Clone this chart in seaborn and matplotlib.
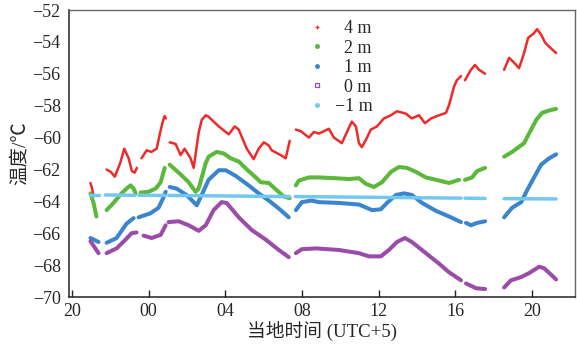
import numpy as np
import pandas as pd
import matplotlib
matplotlib.use('Agg')
import matplotlib.pyplot as plt
from matplotlib.lines import Line2D
import seaborn as sns

nan = np.nan

# hours counted from the first evening (24 = 00 local time), NaN = gap in the record
hour_4m = [20.97, 21.05, 21.13, nan,
           21.81, 22.02, 22.24, 22.52, 22.73, 22.96, 23.13, 23.27, 23.39, nan,
           23.63, 23.9, 24.15, 24.42, 24.6, 24.75, 24.84, 24.9, nan,
           25.10, 25.41, 25.67, 25.88, 26.19, 26.35, 26.61, 26.77, 26.98, 27.13, 27.66, 28.18,
           28.49, 28.70, 29.12, 29.48, 29.74, 30.01, 30.27, 30.42, 30.89, 31.15, 31.36, nan,
           31.68, 31.94, 32.36, 32.62, 32.88, 33.14, 33.40, 33.66, 34.08, 34.44, 34.60, 34.81,
           34.97, 35.12, 35.33, 35.59, 35.91, 36.27, 36.64, 36.95, 37.42, 37.73, 38.10, 38.41,
           38.73, 39.04, 39.51, 39.67, 39.93, 40.08, 40.29, nan,
           40.50, 40.81, 41.02, 41.23, 41.55, nan,
           42.54, 42.80, 43.06, 43.32, 43.58, 43.79, 44.10, 44.26, 44.47, 44.68, 44.89, 45.25]
temp_4m = [-62.85, -63.2, -63.65, nan,
           -62.0, -62.15, -62.45, -61.6, -60.7, -61.3, -62.1, -62.2, -61.9, nan,
           -61.3, -60.8, -60.9, -60.7, -59.7, -58.95, -58.65, -58.8, nan,
           -60.3, -60.4, -61.1, -60.7, -61.3, -61.9, -59.7, -58.9, -58.6, -58.7, -59.3, -59.8,
           -59.3, -59.5, -60.7, -61.35, -60.7, -60.3, -60.5, -60.8, -61.1, -61.3, -60.2, nan,
           -59.5, -59.6, -60.0, -59.65, -59.75, -59.6, -59.45, -60.0, -60.35, -59.4, -59.0, -59.3,
           -60.35, -60.6, -60.15, -59.5, -59.3, -58.8, -58.6, -58.35, -58.5, -58.8, -58.6, -59.1,
           -58.8, -58.65, -58.45, -57.95, -56.8, -56.4, -56.15, nan,
           -56.4, -55.75, -55.45, -55.75, -56.0, nan,
           -55.75, -55.0, -55.3, -55.65, -54.7, -53.75, -53.45, -53.2, -53.55, -54.05, -54.3, -54.7]

hour_2m = [20.97, 21.13, 21.28, nan,
           21.81, 22.17, 22.59, 22.85, 23.06, 23.22, 23.32, nan,
           23.58, 24.0, 24.37, 24.63, 24.84, nan,
           25.10, 25.57, 26.09, 26.45, 26.61, 26.98, 27.13, 27.55, 27.92, 28.28, 28.70, 29.12,
           29.59, 29.85, 30.27, 30.68, 31.05, 31.36, nan,
           31.68, 31.83, 32.36, 32.88, 33.77, 34.44, 34.97, 35.33, 35.75, 36.17, 36.64, 37.05,
           37.47, 37.94, 38.46, 38.99, 39.67, 40.19, nan,
           40.50, 40.87, 41.13, 41.55, nan,
           42.54, 42.96, 43.58, 43.95, 44.21, 44.52, 44.89, 45.25]
temp_2m = [-63.5, -64.1, -64.95, nan,
           -64.55, -64.1, -63.5, -63.2, -63.0, -63.2, -63.5, nan,
           -63.45, -63.4, -63.2, -62.8, -61.9, nan,
           -61.7, -62.2, -62.8, -63.4, -63.2, -61.6, -61.2, -60.9, -61.0, -61.3, -61.5, -62.0,
           -62.5, -62.8, -62.85, -63.3, -63.7, -63.8, nan,
           -63.0, -62.7, -62.5, -62.5, -62.55, -62.6, -62.55, -62.9, -63.1, -62.8, -62.15, -61.85,
           -61.9, -62.15, -62.5, -62.65, -62.85, -62.65, nan,
           -62.65, -62.5, -62.1, -61.9, nan,
           -61.2, -60.9, -60.35, -59.5, -58.9, -58.45, -58.3, -58.2]

hour_1m = [20.97, 21.39, nan,
           21.81, 22.33, 22.85, 23.22, nan,
           23.48, 24.10, 24.52, 24.78, 24.89, nan,
           25.10, 25.46, 25.98, 26.35, 26.51, 26.77, 27.13, 27.66, 28.02, 28.54, 29.22, 29.74,
           30.27, 30.79, 31.31, nan,
           31.68, 31.99, 32.51, 32.88, 33.92, 34.97, 35.65, 36.11, 36.43, 36.90, 37.32, 37.73,
           38.26, 38.99, 39.67, 40.29, nan,
           40.55, 40.81, 41.13, 41.55, nan,
           42.54, 42.96, 43.43, 43.74, 44.10, 44.47, 44.89, 45.25]
temp_1m = [-66.3, -66.55, nan,
           -66.6, -66.3, -65.4, -65.05, nan,
           -65.0, -64.75, -64.4, -63.75, -63.4, nan,
           -63.1, -63.2, -63.6, -64.05, -64.25, -63.6, -62.65, -62.05, -62.05, -62.4, -63.0, -63.5,
           -63.95, -64.45, -65.0, nan,
           -64.55, -64.05, -63.95, -64.05, -64.1, -64.2, -64.55, -64.5, -64.1, -63.6, -63.5, -63.6,
           -64.1, -64.6, -64.95, -65.3, nan,
           -65.35, -65.5, -65.35, -65.25, nan,
           -65.0, -64.4, -64.05, -63.3, -62.5, -61.7, -61.3, -61.05]

hour_0m = [20.97, 21.39, nan,
           21.81, 22.33, 22.80, 23.11, 23.37, nan,
           23.74, 24.16, 24.63, 24.89, nan,
           25.04, 25.57, 26.09, 26.61, 26.98, 27.39, 27.81, 28.07, 28.70, 29.38, 30.11, 30.79,
           31.31, nan,
           31.68, 31.99, 32.72, 33.92, 34.97, 35.49, 36.11, 36.53, 36.95, 37.37, 37.73, 38.46,
           39.14, 39.67, 40.29, nan,
           40.55, 41.08, 41.55, nan,
           42.54, 42.90, 43.43, 43.84, 44.37, 44.63, 44.99, 45.25]
temp_0m = [-66.5, -67.25, nan,
           -67.25, -66.95, -66.4, -66.0, -65.95, nan,
           -66.15, -66.3, -66.1, -65.5, nan,
           -65.3, -65.25, -65.5, -65.85, -65.5, -64.55, -64.05, -64.1, -65.0, -65.8, -66.4, -67.05,
           -67.5, nan,
           -67.25, -67.0, -66.95, -67.05, -67.25, -67.45, -67.45, -67.05, -66.55, -66.3, -66.55, -67.25,
           -67.9, -68.45, -68.95, nan,
           -69.15, -69.45, -69.5, nan,
           -69.4, -68.95, -68.75, -68.5, -68.1, -68.2, -68.6, -68.9]

hour_m1m = [20.95, 21.4, nan, 21.75, 23.3, nan, 23.5, 24.85, nan, 25.05, 31.35, nan,
            31.65, 40.29, nan, 40.5, 41.55, nan, 42.54, 45.25]
temp_m1m = [-63.6, -63.6, nan, -63.6, -63.62, nan, -63.62, -63.63, nan, -63.63, -63.7, nan,
            -63.7, -63.8, nan, -63.8, -63.82, nan, -63.83, -63.85]

labels = ['4 m', '2 m', '1 m', '0 m', '\u22121 m']
colors = ['#ee2a2a', '#5cb83a', '#3a85cc', '#9a4ca8', '#74c8f0']
widths = [1.8, 2.9, 2.9, 2.9, 2.5]
legend_markers = ['+', 'o', 'o', 's', 'o']

xtick_pos = [20, 24, 28, 32, 36, 40, 44]
xtick_labels = ['20', '00', '04', '08', '12', '16', '20']


def to_frame(hours, temps):
    df = pd.DataFrame({'hour': hours, 'temp': temps})
    df['seg'] = df['temp'].isna().cumsum()
    return df.dropna()


series = [to_frame(hour_4m, temp_4m), to_frame(hour_2m, temp_2m),
          to_frame(hour_1m, temp_1m), to_frame(hour_0m, temp_0m),
          to_frame(hour_m1m, temp_m1m)]

sns.set_theme(style='ticks')
plt.rcParams['font.family'] = ['Liberation Serif', 'Noto Sans CJK SC']
plt.rcParams['axes.unicode_minus'] = True

fig = plt.figure(figsize=(5.77, 3.51), dpi=100)
ax = fig.add_axes([0.1196, 0.1538, 0.8774, 0.8177])

for df, col, lw in zip(series, colors, widths):
    sns.lineplot(data=df, x='hour', y='temp', units='seg', estimator=None, sort=False,
                 color=col, linewidth=lw, ax=ax, legend=False)

ax.set_xlim(19.85, 46.25)
ax.set_ylim(-70, -52)
ax.set_yticks(np.arange(-70, -51, 2))
ax.set_xticks(xtick_pos)
ax.set_xticklabels(xtick_labels)
ax.tick_params(axis='x', direction='in', length=5, width=1, labelsize=13, pad=4, color='#222222')
ax.tick_params(axis='y', length=0, labelsize=13, pad=6)
for side in ['left', 'bottom']:
    ax.spines[side].set_color('#222222')
    ax.spines[side].set_linewidth(1.1)
for side in ['top', 'right']:
    ax.spines[side].set_color('#666666')
    ax.spines[side].set_linewidth(1.0)

ax.set_xlabel('当地时间 (UTC+5)', fontsize=13.5, labelpad=1)
ax.set_ylabel('温度/℃', fontsize=14, labelpad=3)

handles = [Line2D([], [], linestyle='', marker=m, color=c, markersize=2.6,
                  markeredgecolor=c, markerfacecolor=(c if m != 's' else 'white'),
                  markeredgewidth=0.9)
           for m, c in zip(legend_markers, colors)]
leg_labels = ['\u2007' + t if not t.startswith('\u2212') else t for t in labels]
ax.legend(handles, leg_labels, loc='upper left', bbox_to_anchor=(0.45, 1.003), frameon=False,
          fontsize=13, labelspacing=0.14, handlelength=1.0, handletextpad=0.5,
          borderaxespad=0.2)

fig.savefig('out.png', dpi=100)
